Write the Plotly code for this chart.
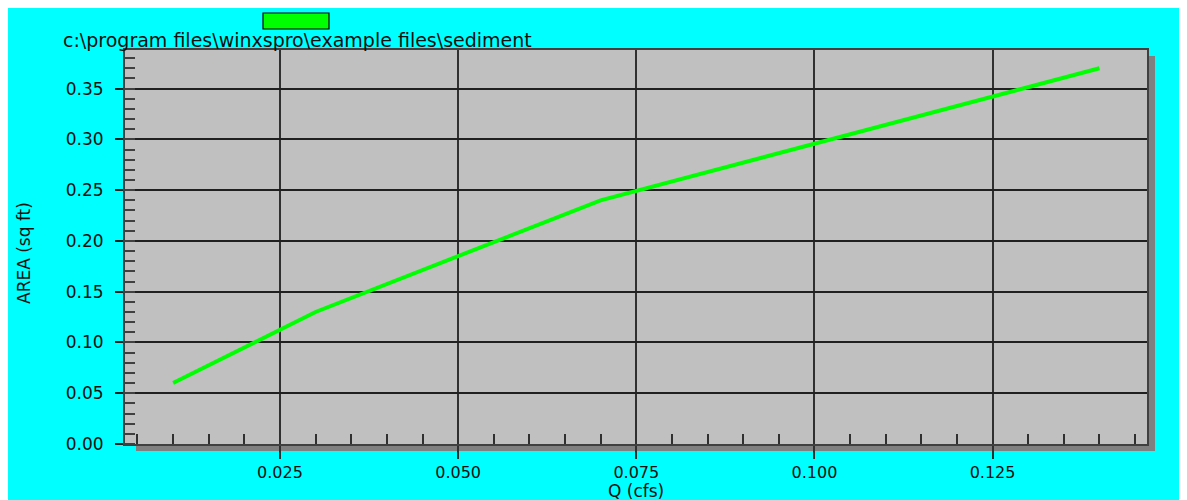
import plotly.graph_objects as go

# ---- data ----
q_cfs = [0.01, 0.03, 0.07, 0.14]
area_sqft = [0.06, 0.13, 0.24, 0.37]
x_ticks = [0.025, 0.050, 0.075, 0.100, 0.125]
x_tick_labels = ["0.025", "0.050", "0.075", "0.100", "0.125"]
title_text = "c:\\program files\\winxspro\\example files\\sediment"
x_title = "Q (cfs)"
y_title = "AREA (sq ft)"

# figure is placed by the page at (8, 8); coordinates below are figure pixels
W, H = 1179, 492
L, R, T, B = 117, 1139, 42, 436
pw, ph = R - L, B - T


def px(x):
    return (x - L) / pw


def py(y):
    return (B - y) / ph


FONT = "DejaVu Sans"

fig = go.Figure()
fig.add_trace(go.Scatter(
    x=q_cfs, y=area_sqft, mode="lines",
    line=dict(color="#00ff00", width=4),
    showlegend=False, hoverinfo="x+y",
))

shapes = [
    # drop shadow
    dict(type="rect", xref="paper", yref="paper", x0=px(128), x1=px(1147), y0=py(443), y1=py(48),
         fillcolor="#808080", line=dict(width=0), layer="below"),
    # plot background
    dict(type="rect", xref="paper", yref="paper", x0=0, x1=1, y0=0, y1=1,
         fillcolor="#c0c0c0", line=dict(width=0), layer="below"),
    # legend swatch
    dict(type="rect", xref="paper", yref="paper", x0=px(255), x1=px(321), y0=py(21), y1=py(5),
         fillcolor="#00ff00", line=dict(color="black", width=1.2), layer="above"),
]

fig.update_layout(
    width=W, height=H,
    margin=dict(l=L, r=W - R, t=T, b=H - B, autoexpand=False),
    paper_bgcolor="#00ffff",
    plot_bgcolor="rgba(0,0,0,0)",
    font=dict(family=FONT, size=17, color="#101010"),
    shapes=shapes,
    annotations=[
        dict(text=title_text, xref="paper", yref="paper",
             x=px(53), y=py(32), xanchor="left", yanchor="middle",
             showarrow=False, font=dict(family=FONT, size=19, color="#101010")),
        dict(text=y_title, xref="paper", yref="paper",
             x=px(16), y=py(245), xanchor="center", yanchor="middle", textangle=-90,
             showarrow=False, font=dict(family=FONT, size=17, color="#101010")),
        dict(text=x_title, xref="paper", yref="paper",
             x=0.5, y=py(483), xanchor="center", yanchor="middle",
             showarrow=False, font=dict(family=FONT, size=17, color="#101010")),
    ],
    showlegend=False,
)

fig.update_xaxes(
    range=[0.00325, 0.14667],
    tickvals=x_ticks, ticktext=x_tick_labels,
    ticks="outside", ticklen=13, tickwidth=2, tickcolor="#303030",
    showgrid=True, gridcolor="#303030", gridwidth=2,
    showline=True, linecolor="#404040", linewidth=2, mirror=True,
    zeroline=False,
    tickfont=dict(family=FONT, size=16),
    minor=dict(dtick=0.005, tick0=0, ticks="inside", ticklen=10, tickwidth=1.5,
               tickcolor="#303030", showgrid=False),
)
fig.update_yaxes(
    range=[0, 0.388],
    dtick=0.05, tick0=0, tickformat=".2f",
    ticks="outside", ticklen=8, tickwidth=1.5, tickcolor="#202020",
    ticklabelstandoff=8,
    showgrid=True, gridcolor="#202020", gridwidth=1.5,
    showline=True, linecolor="#404040", linewidth=2, mirror=True,
    zeroline=False,
    tickfont=dict(family=FONT, size=17),
    minor=dict(dtick=0.01, tick0=0, ticks="inside", ticklen=10, tickwidth=1.5,
               tickcolor="#404040", showgrid=False),
)

fig.write_html("out.html")
